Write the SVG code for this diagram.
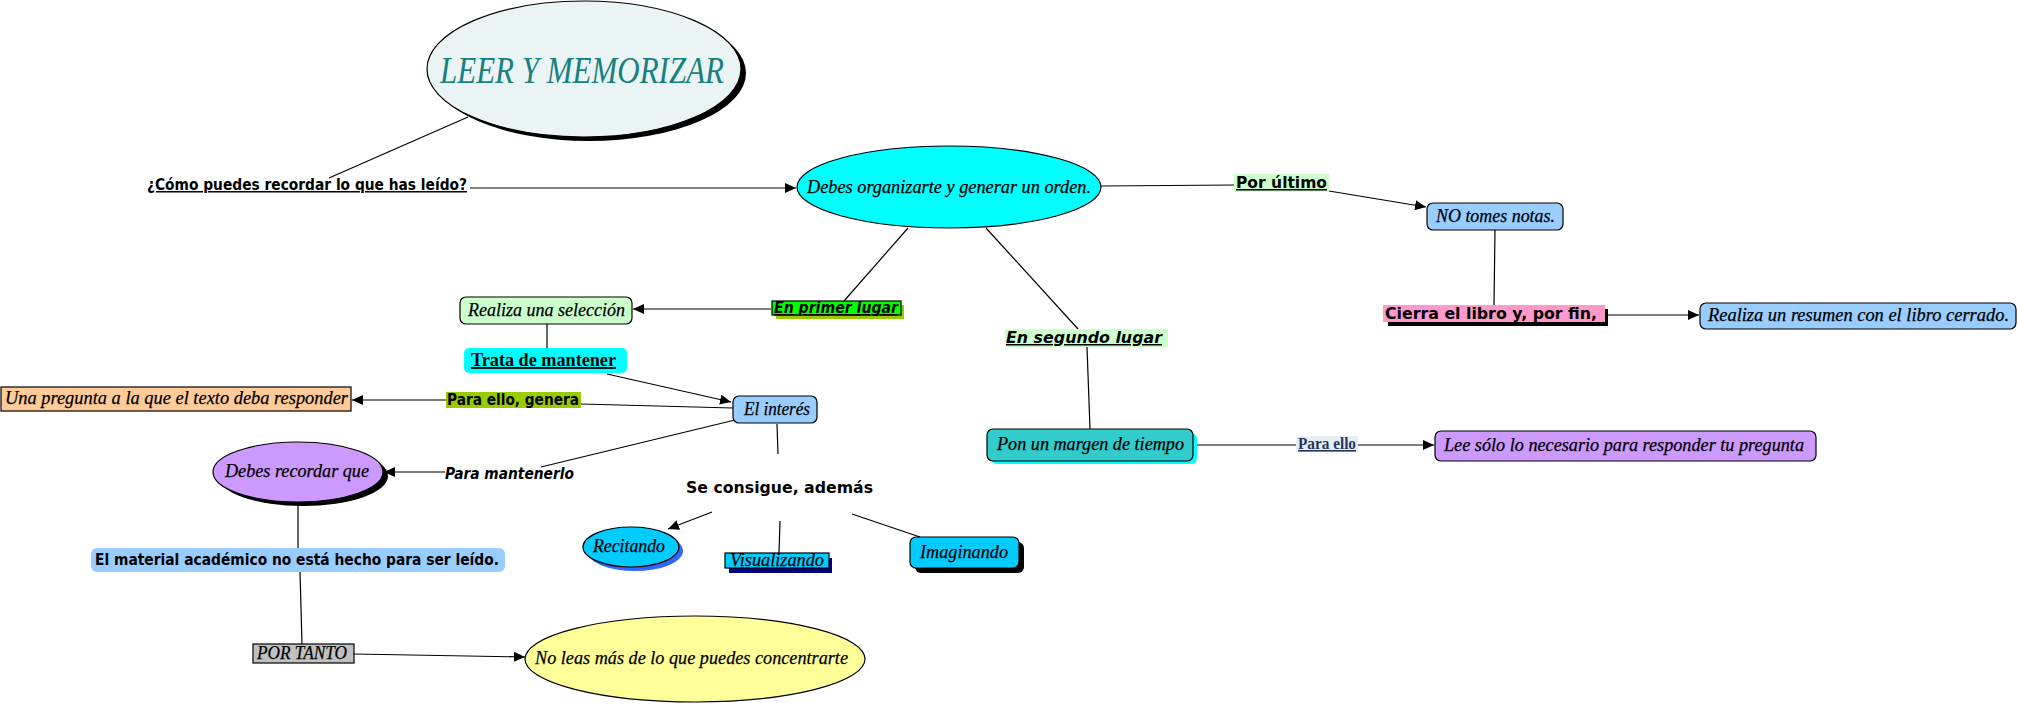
<svg xmlns="http://www.w3.org/2000/svg" width="2019" height="706" viewBox="0 0 2019 706">
<style>
.bg{fill:#ffffff}
.st{stroke:#000;stroke-width:1.2}
.ser{font-family:"Liberation Serif","Times New Roman",serif;font-style:italic;font-size:19px;fill:#000;stroke:#000;stroke-width:0.25}
.sans{font-family:"DejaVu Sans Condensed","DejaVu Sans",sans-serif;font-weight:bold;font-size:15px;fill:#000}
.ul{text-decoration:underline}
.conn line{stroke:#000;stroke-width:1.2;fill:none}
</style>
<defs>
<marker id="ah" markerUnits="userSpaceOnUse" markerWidth="12" markerHeight="10" refX="11" refY="5" orient="auto">
<path d="M0,0 L11,5 L0,10 z" fill="#000"/>
</marker>
</defs>
<rect class="bg" x="0" y="0" width="2019" height="706"/>

<g id="connectors" class="conn">
<line x1="468" y1="117" x2="329" y2="178"/>
<line x1="470" y1="188" x2="796" y2="188" marker-end="url(#ah)"/>
<line x1="1101" y1="186" x2="1234" y2="185"/>
<line x1="1329" y1="191" x2="1426" y2="207" marker-end="url(#ah)"/>
<line x1="1495" y1="230" x2="1494" y2="305"/>
<line x1="1608" y1="315" x2="1699" y2="315" marker-end="url(#ah)"/>
<line x1="986" y1="228" x2="1078" y2="329"/>
<line x1="1087" y1="347" x2="1090" y2="429"/>
<line x1="1195" y1="445" x2="1296" y2="445"/>
<line x1="1358" y1="445" x2="1434" y2="445" marker-end="url(#ah)"/>
<line x1="908" y1="228" x2="844" y2="301"/>
<line x1="771" y1="309" x2="633" y2="309" marker-end="url(#ah)"/>
<line x1="547" y1="324" x2="547" y2="348"/>
<line x1="607" y1="374" x2="731" y2="402" marker-end="url(#ah)"/>
<line x1="733" y1="408" x2="581" y2="404"/>
<line x1="446" y1="400" x2="352" y2="400" marker-end="url(#ah)"/>
<line x1="735" y1="420" x2="541" y2="467"/>
<line x1="445" y1="472" x2="384" y2="472" marker-end="url(#ah)"/>
<line x1="777" y1="424" x2="778" y2="454"/>
<line x1="712" y1="512" x2="668" y2="529" marker-end="url(#ah)"/>
<line x1="780" y1="521" x2="779" y2="553"/>
<line x1="852" y1="514" x2="920" y2="537"/>
<line x1="298" y1="503" x2="298" y2="548"/>
<line x1="300" y1="572" x2="302" y2="644"/>
<line x1="354" y1="654" x2="525" y2="657" marker-end="url(#ah)"/>
</g>

<g id="leer">
<ellipse cx="589" cy="73" rx="157" ry="68" fill="#000"/>
<ellipse cx="584" cy="69" rx="157" ry="68" fill="#EBF4F5" class="st"/>
<text x="440" y="83" font-family="Liberation Serif, serif" font-style="italic" font-size="38" fill="#178080" textLength="284" lengthAdjust="spacingAndGlyphs">LEER Y MEMORIZAR</text>
</g>

<g id="pregunta">
<text class="sans ul" x="147" y="190" font-size="14" textLength="320" lengthAdjust="spacingAndGlyphs">¿Cómo puedes recordar lo que has leído?</text>
</g>

<g id="organizarte">
<ellipse cx="949" cy="187" rx="152" ry="41" fill="#00FFFF" class="st"/>
<text class="ser" x="807" y="193" textLength="284" lengthAdjust="spacingAndGlyphs">Debes organizarte y generar un orden.</text>
</g>

<g id="porultimo">
<rect x="1234" y="174" width="95" height="18" fill="#CCFFCC"/>
<text class="sans ul" x="1236" y="188" font-size="16" textLength="91" lengthAdjust="spacingAndGlyphs">Por último</text>
</g>

<g id="notas">
<rect x="1427" y="203" width="136" height="27" rx="6" fill="#99CCFF" class="st"/>
<text class="ser" x="1436" y="222" textLength="119" lengthAdjust="spacingAndGlyphs">NO tomes notas.</text>
</g>

<g id="cierra">
<rect x="1388" y="309" width="220" height="17" fill="#000"/>
<rect x="1383" y="305" width="222" height="17" fill="#FF99CC"/>
<text class="sans" x="1385" y="319" font-size="16" textLength="212" lengthAdjust="spacingAndGlyphs">Cierra el libro y, por fin,</text>
</g>

<g id="resumen">
<rect x="1700" y="303" width="316" height="26" rx="6" fill="#99CCFF" class="st"/>
<text class="ser" x="1708" y="321" textLength="301" lengthAdjust="spacingAndGlyphs">Realiza un resumen con el libro cerrado.</text>
</g>

<g id="segundo">
<rect x="1005" y="329" width="163" height="18" fill="#CCFFCC"/>
<text class="sans ul" x="1006" y="343" font-size="16" font-style="italic" textLength="156" lengthAdjust="spacingAndGlyphs">En segundo lugar</text>
</g>

<g id="margen">
<rect x="991" y="433" width="206" height="31" rx="6" fill="#00FFFF"/>
<rect x="987" y="429" width="206" height="32" rx="6" fill="#33CCCC" class="st"/>
<text class="ser" x="997" y="450" textLength="187" lengthAdjust="spacingAndGlyphs">Pon un margen de tiempo</text>
</g>

<g id="paraello">
<rect x="1296" y="436" width="62" height="16" fill="#E6EEF5"/>
<text x="1298" y="449" font-family="Liberation Serif, serif" font-weight="bold" font-size="16" fill="#1F3864" class="ul" textLength="58" lengthAdjust="spacingAndGlyphs">Para ello</text>
</g>

<g id="lee">
<rect x="1435" y="431" width="381" height="30" rx="6" fill="#CC99FF" class="st"/>
<text class="ser" x="1444" y="451" textLength="360" lengthAdjust="spacingAndGlyphs">Lee sólo lo necesario para responder tu pregunta</text>
</g>

<g id="primer">
<rect x="776" y="305" width="128" height="14" fill="#99CC00"/>
<rect x="772" y="301" width="129" height="14" fill="#00FF00" class="st"/>
<text class="sans ul" x="774" y="313" font-size="14" font-style="italic" textLength="124" lengthAdjust="spacingAndGlyphs">En primer lugar</text>
</g>

<g id="seleccion">
<rect x="460" y="297" width="172" height="27" rx="6" fill="#CCFFCC" class="st"/>
<text class="ser" x="468" y="316" textLength="157" lengthAdjust="spacingAndGlyphs">Realiza una selección</text>
</g>

<g id="trata">
<rect x="464" y="348" width="163" height="25" rx="5" fill="#00FFFF"/>
<text x="471" y="366" font-family="Liberation Serif, serif" font-weight="bold" font-size="19" class="ul" textLength="145" lengthAdjust="spacingAndGlyphs">Trata de mantener</text>
</g>

<g id="unapregunta">
<rect x="1" y="387" width="350" height="24" fill="#FFCC99" class="st"/>
<text class="ser" x="5" y="404" textLength="343" lengthAdjust="spacingAndGlyphs">Una pregunta a la que el texto deba responder</text>
</g>

<g id="genera">
<rect x="446" y="392" width="135" height="16" fill="#99CC00"/>
<text class="sans" x="447" y="405" textLength="132" lengthAdjust="spacingAndGlyphs">Para ello, genera</text>
</g>

<g id="interes">
<rect x="733" y="396" width="84" height="27" rx="6" fill="#99CCFF" class="st"/>
<text class="ser" x="744" y="415" textLength="66" lengthAdjust="spacingAndGlyphs">El interés</text>
</g>

<g id="mantenerlo">
<text class="sans" x="445" y="479" font-style="italic" textLength="129" lengthAdjust="spacingAndGlyphs">Para mantenerlo</text>
</g>

<g id="recordar">
<ellipse cx="303" cy="476" rx="85" ry="30" fill="#000"/>
<ellipse cx="298" cy="472" rx="85" ry="30" fill="#CC99FF" class="st"/>
<text class="ser" x="225" y="477" textLength="144" lengthAdjust="spacingAndGlyphs">Debes recordar que</text>
</g>

<g id="consigue">
<text class="sans" x="686" y="493" font-size="17" textLength="187" lengthAdjust="spacingAndGlyphs">Se consigue, además</text>
</g>

<g id="recitando">
<ellipse cx="635" cy="551" rx="48" ry="20" fill="#3366FF"/>
<ellipse cx="631" cy="547" rx="48" ry="20" fill="#00CCFF" class="st"/>
<text class="ser" x="593" y="552" textLength="72" lengthAdjust="spacingAndGlyphs">Recitando</text>
</g>

<g id="visualizando">
<rect x="729" y="558" width="103" height="15" fill="#000080"/>
<rect x="725" y="553" width="104" height="15" fill="#00CCFF" class="st"/>
<text class="ser" x="730" y="566" font-size="17" textLength="94" lengthAdjust="spacingAndGlyphs">Visualizando</text>
</g>

<g id="imaginando">
<rect x="915" y="542" width="109" height="31" rx="6" fill="#000"/>
<rect x="910" y="537" width="109" height="31" rx="6" fill="#00CCFF" class="st"/>
<text class="ser" x="920" y="558" textLength="88" lengthAdjust="spacingAndGlyphs">Imaginando</text>
</g>

<g id="material">
<rect x="91" y="548" width="414" height="24" rx="6" fill="#99CCFF"/>
<text class="sans" x="95" y="565" textLength="404" lengthAdjust="spacingAndGlyphs">El material académico no está hecho para ser leído.</text>
</g>

<g id="portanto">
<rect x="253" y="644" width="101" height="19" fill="#C0C0C0" class="st"/>
<text class="ser" x="257" y="659" font-size="16" textLength="90" lengthAdjust="spacingAndGlyphs">POR TANTO</text>
</g>

<g id="noleas">
<ellipse cx="695" cy="659" rx="170" ry="43" fill="#FFFF99" class="st"/>
<text class="ser" x="535" y="664" textLength="313" lengthAdjust="spacingAndGlyphs">No leas más de lo que puedes concentrarte</text>
</g>
</svg>
